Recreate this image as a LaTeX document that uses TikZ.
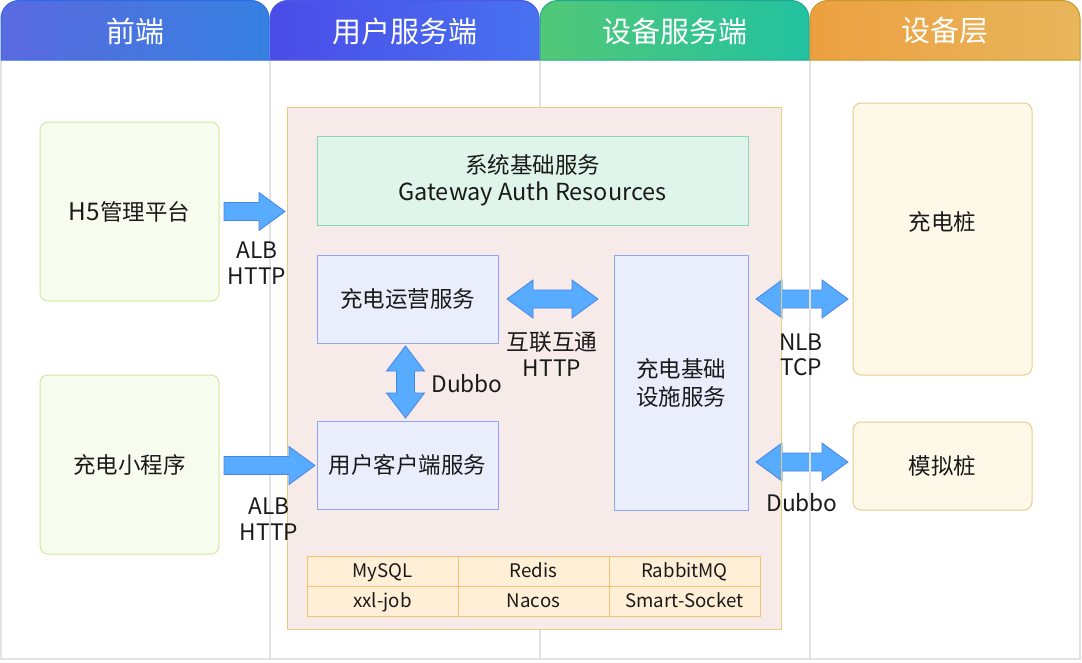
\documentclass[tikz,border=0pt]{standalone}
\usepackage{fontspec}
\setmainfont{Noto Sans CJK SC}
\usetikzlibrary{calc}
\definecolor{lanegray}{HTML}{E2E2E2}
\definecolor{txt}{HTML}{1A1A1A}
\definecolor{hAl}{HTML}{5B6AE0}\definecolor{hAr}{HTML}{3580E0}\definecolor{hAb}{HTML}{2F6BE6}
\definecolor{hBl}{HTML}{4A4CE8}\definecolor{hBr}{HTML}{4872F0}\definecolor{hBb}{HTML}{4A5AE8}
\definecolor{hCl}{HTML}{52C877}\definecolor{hCr}{HTML}{22C2A0}\definecolor{hCb}{HTML}{1FA88E}
\definecolor{hDl}{HTML}{ECA040}\definecolor{hDr}{HTML}{E8B65C}\definecolor{hDb}{HTML}{C89A2A}
\definecolor{frontfill}{HTML}{F7FDEE}\definecolor{frontdraw}{HTML}{D2E9A0}
\definecolor{corefill}{HTML}{F6EBE8}\definecolor{coredraw}{HTML}{E6CC80}
\definecolor{basefill}{HTML}{DFF5EC}\definecolor{basedraw}{HTML}{88D8B0}
\definecolor{svcfill}{HTML}{EAEEFC}\definecolor{svcdraw}{HTML}{8FA6EF}
\definecolor{devfill}{HTML}{FEF8E8}\definecolor{devdraw}{HTML}{E6CE8C}
\definecolor{tabfill}{HTML}{FFEFD6}\definecolor{tabdraw}{HTML}{F5C272}
\definecolor{arrfill}{HTML}{57ACFF}\definecolor{arrdraw}{HTML}{4A84E8}
\newcommand\lat[1]{{\fontsize{24.3}{28}\selectfont #1}}
\tikzset{
  lanel/.style={draw=lanegray, line width=1.5pt},
  headtxt/.style={text=white, font=\fontsize{29}{34}\selectfont},
  body/.style={text=txt, font=\fontsize{22.5}{28}\selectfont, align=center},
  lbl/.style={text=txt, font=\fontsize{22.7}{25.5}\selectfont, align=center},
  tabtxt/.style={text=txt, font=\fontsize{18.7}{22}\selectfont},
  frontbox/.style={draw=frontdraw, fill=frontfill, rounded corners=8pt, line width=1pt, inner sep=0pt, minimum width=179pt, minimum height=179pt, body},
  corebox/.style={draw=coredraw, fill=corefill, line width=1pt, inner sep=0pt},
  basebox/.style={draw=basedraw, fill=basefill, line width=1pt, inner sep=0pt, body},
  svcbox/.style={draw=svcdraw, fill=svcfill, line width=1pt, inner sep=0pt, body},
  devbox/.style={draw=devdraw, fill=devfill, rounded corners=8pt, line width=1pt, inner sep=0pt, minimum width=179pt},
  tabcell/.style={draw=tabdraw, fill=tabfill, line width=1pt, inner sep=0pt, minimum width=151pt, minimum height=30pt, text height=12.5pt, text depth=0pt, tabtxt},
  blockarrow/.style={draw=arrdraw, fill=arrfill, line width=0.8pt, line join=miter},
}
% right-pointing block arrow: x1, x2, y
\newcommand\arrR[3]{\draw[blockarrow] (#1,{#3-9}) -- ({#2-26},{#3-9}) -- ({#2-26},{#3-19}) -- (#2,#3) -- ({#2-26},{#3+19}) -- ({#2-26},{#3+9}) -- (#1,{#3+9}) -- cycle;}
% horizontal double block arrow: x1, x2, y
\newcommand\arrH[3]{\draw[blockarrow] (#1,#3) -- ({#1+26},{#3-19}) -- ({#1+26},{#3-9}) -- ({#2-26},{#3-9}) -- ({#2-26},{#3-19}) -- (#2,#3) -- ({#2-26},{#3+19}) -- ({#2-26},{#3+9}) -- ({#1+26},{#3+9}) -- ({#1+26},{#3+19}) -- cycle;}
% vertical double block arrow: x, y1, y2
\newcommand\arrV[3]{\draw[blockarrow] (#1,#2) -- ({#1+19},{#2+25}) -- ({#1+9},{#2+25}) -- ({#1+9},{#3-25}) -- ({#1+19},{#3-25}) -- (#1,#3) -- ({#1-19},{#3-25}) -- ({#1-9},{#3-25}) -- ({#1-9},{#2+25}) -- ({#1-19},{#2+25}) -- cycle;}
\begin{document}
\begin{tikzpicture}[x=1pt,y=-1pt]
\useasboundingbox (0,0) rectangle (1082,662);
\fill[white] (0,0) rectangle (1082,662);
% lanes
\draw[lanel] (1,60) -- (1,659) -- (1080,659) -- (1080,60);
\foreach \x in {270,540,810} \draw[lanel] (\x,60) -- (\x,659);
% headers
\draw[draw=hAb, left color=hAl, right color=hAr, line width=1pt] (1,60) [rounded corners=18pt] -- (1,0.5) -- (269,0.5) [sharp corners] -- (269,60) -- cycle;
\draw[draw=hBb, left color=hBl, right color=hBr, line width=1pt] (270,60) [rounded corners=18pt] -- (270,0.5) -- (539,0.5) [sharp corners] -- (539,60) -- cycle;
\draw[draw=hCb, left color=hCl, right color=hCr, line width=1pt] (540,60) [rounded corners=18pt] -- (540,0.5) -- (809,0.5) [sharp corners] -- (809,60) -- cycle;
\draw[draw=hDb, left color=hDl, right color=hDr, line width=1pt] (810,60) [rounded corners=18pt] -- (810,0.5) -- (1080,0.5) [sharp corners] -- (1080,60) -- cycle;
\node[headtxt] (hfront) at (135,31) {前端};
\node[headtxt] (huser) at (405,31) {用户服务端};
\node[headtxt] (hdev) at (675,31) {设备服务端};
\node[headtxt] (hlayer) at (945,31) {设备层};
% front end
\node[frontbox] (h5) at (129.5,211.5) {\lat{H5}管理平台};
\node[frontbox] (mini) at (129.5,464.5) {充电小程序};
% core container
\node[corebox, minimum width=494pt, minimum height=522pt] (core) at (534,368) {};
\node[basebox, minimum width=431pt, minimum height=89pt] (base) at (532.5,180.5) {系统基础服务\\[-1pt]{\fontsize{23.5}{28}\selectfont Gateway Auth Resources}};
\node[svcbox, minimum width=181pt, minimum height=88pt] (ops) at (407.5,299) {充电运营服务};
\node[svcbox, minimum width=181pt, minimum height=88pt] (client) at (407.5,465) {用户客户端服务};
\node[svcbox, minimum width=134pt, minimum height=255pt] (infra) at (681,382.5) {充电基础\\设施服务};
% table
\node[tabcell] (t11) at (382.5,571) {MySQL};
\node[tabcell] (t12) at (533.5,571) {Redis};
\node[tabcell] (t13) at (684.5,571) {RabbitMQ};
\node[tabcell] (t21) at (382.5,601) {xxl-job};
\node[tabcell] (t22) at (533.5,601) {Nacos};
\node[tabcell] (t23) at (684.5,601) {Smart-Socket};
% devices
\node[devbox, minimum height=272pt] (pile) at (942.5,239) {};
\node[body] (piletxt) at (942.5,222) {充电桩};
\node[devbox, minimum height=88pt, body] (sim) at (942.5,466) {模拟桩};
% arrows
\arrR{224}{285}{211.5}
\arrR{224}{315}{465.5}
\arrH{507}{598}{299}
\arrV{405.5}{346}{418}
\arrH{756}{848}{299}
\arrH{756}{848}{462}
% lines seen over the right-hand arrows
\draw[draw=coredraw, line width=1pt] (core.north east) -- (core.south east);
\draw[lanel] (810,260) -- (810,520);
% labels
\node[lbl] (l1) at (257,263) {ALB\\HTTP};
\node[lbl] (l2) at (269,519) {ALB\\HTTP};
\node[lbl] (l3) at (552,354) {互联互通\\HTTP};
\node[lbl] (l4) at (467,384) {Dubbo};
\node[lbl] (l5) at (801,355) {NLB\\TCP};
\node[lbl] (l6) at (802,503) {Dubbo};
\end{tikzpicture}
\end{document}
